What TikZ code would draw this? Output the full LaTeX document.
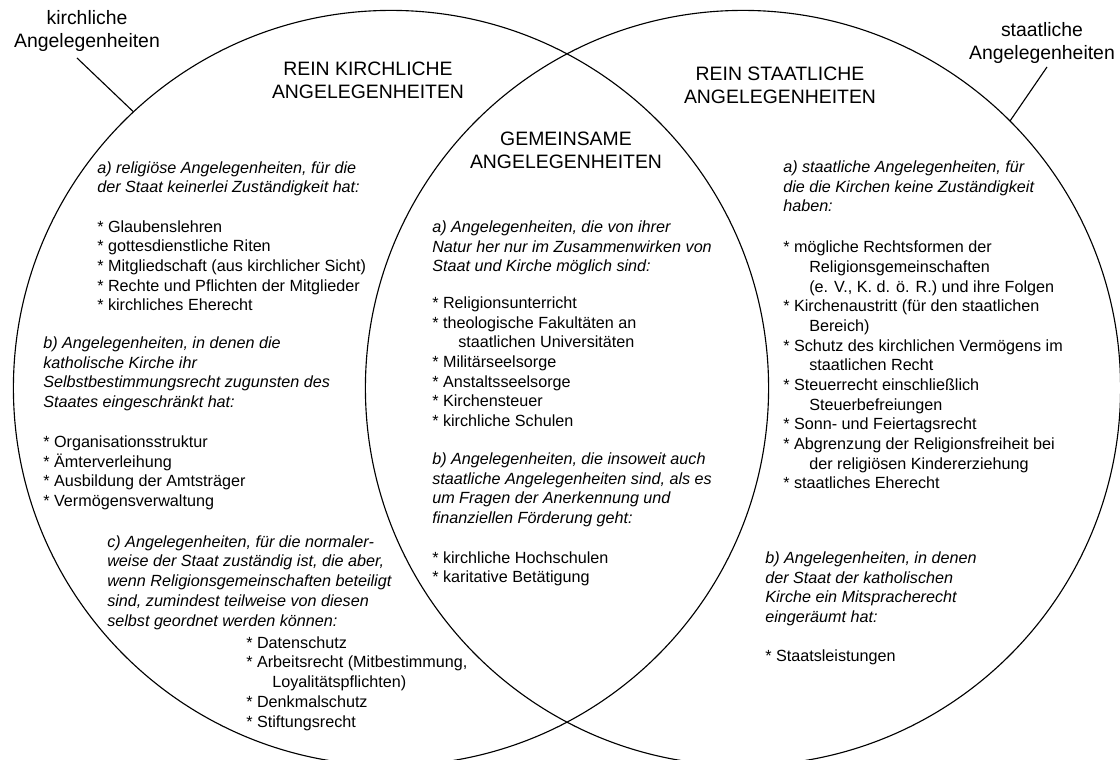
\documentclass[tikz,border=0pt]{standalone}
\usepackage{fontspec}
\setmainfont{Liberation Sans}
\usepackage{tikz}
\usetikzlibrary{positioning}
\newcommand{\listindent}{\hspace*{18.5pt}}

\begin{document}
\begin{tikzpicture}[x=0.025cm, y=-0.025cm,
        % Circles and leader lines
        ring/.style    = {circle, draw, line width=0.8pt, minimum size=18.875cm, inner sep=0pt, outer sep=0pt},
        leader/.style  = {draw, line width=0.8pt},
        % Texts (placed at the baseline of their last line)
        tag/.style     = {align=center, anchor=base, inner sep=0pt, font=\fontsize{13.8}{17}\selectfont},
        heading/.style = {tag},
        body/.style    = {align=left, anchor=base west, inner sep=0pt, font=\fontsize{11.5}{14}\selectfont},
        intro/.style   = {body, font=\fontsize{11.5}{14}\selectfont\itshape}
    ]
    \useasboundingbox (0,0) rectangle (1120,760);

    % --- The two circles ---
    \node[ring] (kirche) at (391,388) {};
    \node[ring] (staat) at (743,388) {};

    % --- Outer tags ---
    \node[tag] (kirchtag) at (87,48) {kirchliche\\Angelegenheiten};
    \node[tag] (staattag) at (1042,60) {staatliche\\Angelegenheiten};
    \coordinate (kirchfoot) at (77,58);
    \coordinate (staatfoot) at (1047,67);

    % --- Headings ---
    \node[heading] (reinkirch) at (368,99) {REIN KIRCHLICHE\\ANGELEGENHEITEN};
    \node[heading] (gemeinsam) at (566,169) {GEMEINSAME\\ANGELEGENHEITEN};
    \node[heading] (reinstaat) at (780,104) {REIN STAATLICHE\\ANGELEGENHEITEN};

    % --- Rein kirchliche Angelegenheiten ---
    \node[intro] (kirch_a) at (97,193) {a) religiöse Angelegenheiten, für die\\der Staat keinerlei Zuständigkeit hat:};
    \node[body] (kirch_a_list) at (97,311) {* Glaubenslehren\\* gottesdienstliche Riten\\* Mitgliedschaft (aus kirchlicher Sicht)\\* Rechte und Pflichten der Mitglieder\\* kirchliches Eherecht};
    \node[intro] (kirch_b) at (43,407.5) {b) Angelegenheiten, in denen die\\katholische Kirche ihr\\Selbstbestimmungsrecht zugunsten des\\Staates eingeschränkt hat:};
    \node[body] (kirch_b_list) at (43,506.5) {* Organisationsstruktur\\* Ämterverleihung\\* Ausbildung der Amtsträger\\* Vermögensverwaltung};
    \node[intro] (kirch_c) at (107,626) {c) Angelegenheiten, für die normaler-\\weise der Staat zuständig ist, die aber,\\wenn Religionsgemeinschaften beteiligt\\sind, zumindest teilweise von diesen\\selbst geordnet werden können:};
    \node[body] (kirch_c_list) at (246,727) {* Datenschutz\\* Arbeitsrecht (Mitbestimmung,\\\listindent Loyalitätspflichten)\\* Denkmalschutz\\* Stiftungsrecht};

    % --- Gemeinsame Angelegenheiten ---
    \node[intro] (gemein_a) at (432,272) {a) Angelegenheiten, die von ihrer\\Natur her nur im Zusammenwirken von\\Staat und Kirche möglich sind:};
    \node[body] (gemein_a_list) at (432,426.5) {* Religionsunterricht\\* theologische Fakultäten an\\\listindent staatlichen Universitäten\\* Militärseelsorge\\* Anstaltsseelsorge\\* Kirchensteuer\\* kirchliche Schulen};
    \node[intro] (gemein_b) at (432,523.5) {b) Angelegenheiten, die insoweit auch\\staatliche Angelegenheiten sind, als es\\um Fragen der Anerkennung und\\finanziellen Förderung geht:};
    \node[body] (gemein_b_list) at (432,583) {* kirchliche Hochschulen\\* karitative Betätigung};

    % --- Rein staatliche Angelegenheiten ---
    \node[intro] (staat_a) at (783,212) {a) staatliche Angelegenheiten, für\\die die Kirchen keine Zuständigkeit\\haben:};
    \node[body] (staat_a_list) at (783,489) {* mögliche Rechtsformen der\\\listindent Religionsgemeinschaften\\\listindent (e. V., K. d. ö. R.) und ihre Folgen\\* Kirchenaustritt (für den staatlichen\\\listindent Bereich)\\* Schutz des kirchlichen Vermögens im\\\listindent staatlichen Recht\\* Steuerrecht einschließlich\\\listindent Steuerbefreiungen\\* Sonn- und Feiertagsrecht\\* Abgrenzung der Religionsfreiheit bei\\\listindent der religiösen Kindererziehung\\* staatliches Eherecht};
    \node[intro] (staat_b) at (765,622.5) {b) Angelegenheiten, in denen\\der Staat der katholischen\\Kirche ein Mitspracherecht\\eingeräumt hat:};
    \node[body] (staat_b_list) at (765,661.5) {* Staatsleistungen};

    % Leader lines
    \draw[leader] (kirchfoot) -- (kirche.133);
    \draw[leader] (staatfoot) -- (staat.45);

\end{tikzpicture}
\end{document}
